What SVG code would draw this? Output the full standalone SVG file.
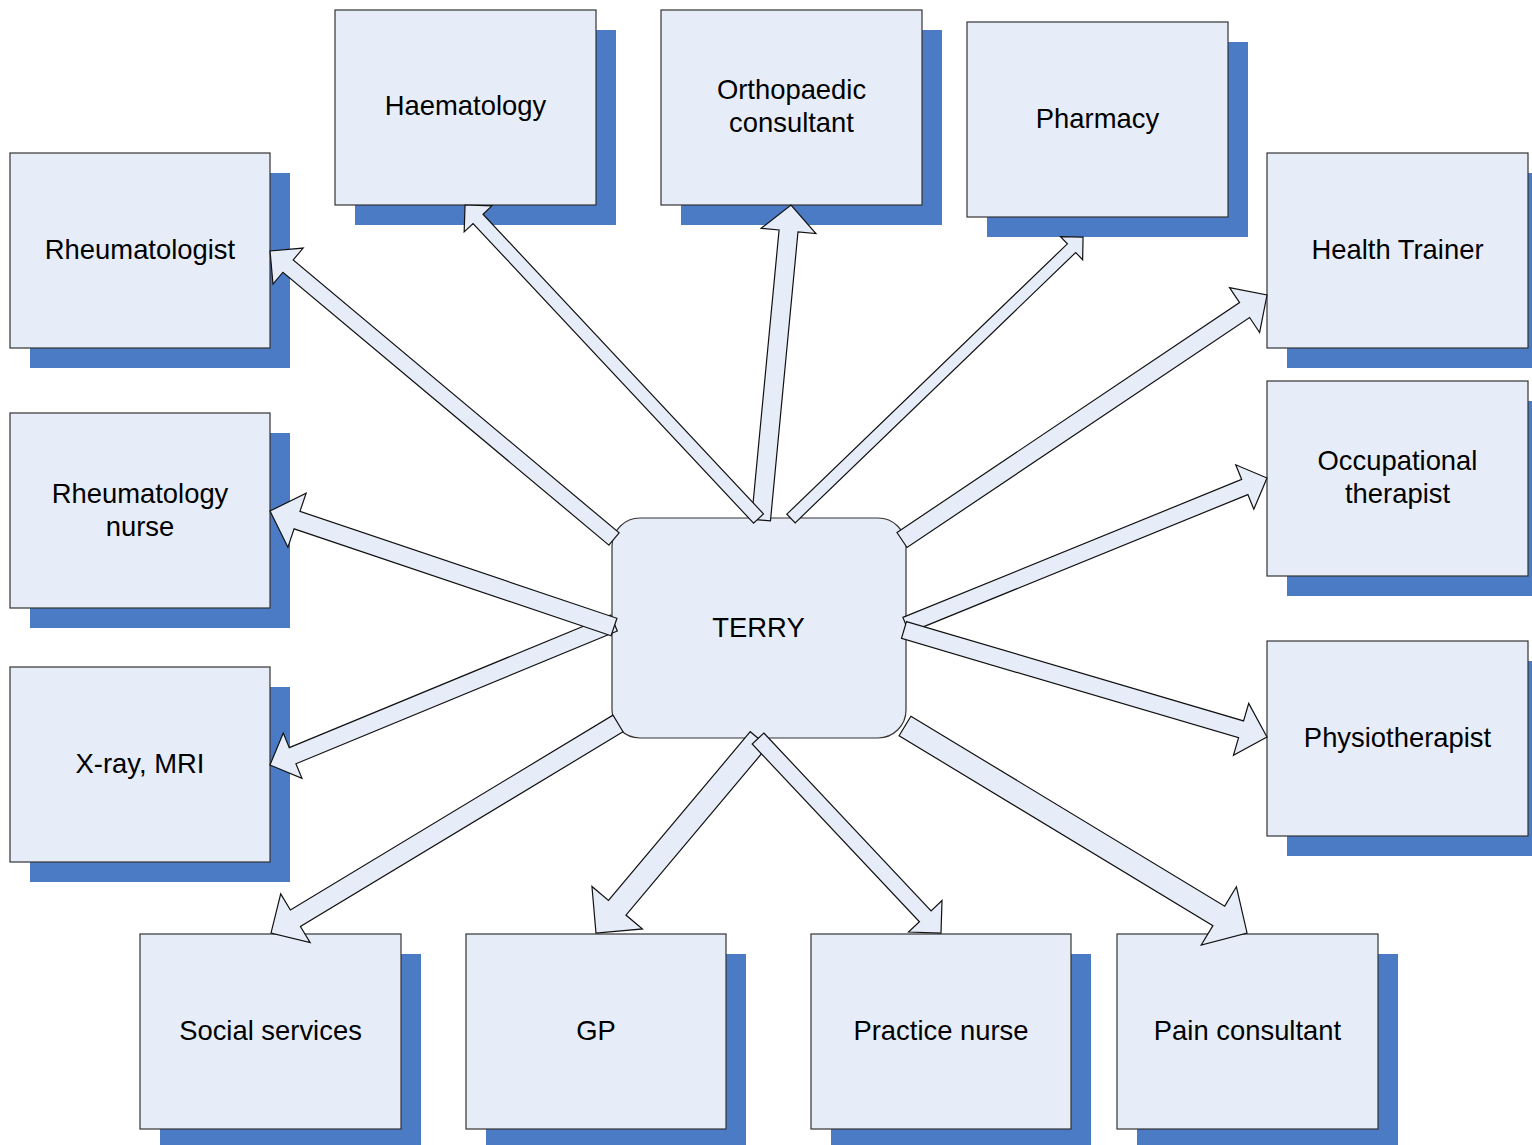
<svg xmlns="http://www.w3.org/2000/svg" width="1532" height="1145" viewBox="0 0 1532 1145">
<style>
.sh{fill:#4A7BC4}
.bx{fill:#E7EDF8;stroke:#333;stroke-width:1.2}
.t{font-family:"Liberation Sans",Arial,sans-serif;font-size:27.4px;fill:#000;text-anchor:middle}
.ar{fill:#E7EDF8;stroke:#111;stroke-width:1.2;stroke-linejoin:miter}
</style>
<rect width="1532" height="1145" fill="#fff"/>
<g id="haematology"><rect class="sh" x="355" y="30" width="261" height="195"/><rect class="bx" x="335" y="10" width="261" height="195"/><text class="t" x="465.5" y="115">Haematology</text></g>
<g id="orthopaedic"><rect class="sh" x="681" y="30" width="261" height="195"/><rect class="bx" x="661" y="10" width="261" height="195"/><text class="t" x="791.5" y="98.5">Orthopaedic</text><text class="t" x="791.5" y="131.5">consultant</text></g>
<g id="pharmacy"><rect class="sh" x="987" y="42" width="261" height="195"/><rect class="bx" x="967" y="22" width="261" height="195"/><text class="t" x="1097.5" y="128">Pharmacy</text></g>
<g id="rheumatologist"><rect class="sh" x="30" y="173" width="260" height="195"/><rect class="bx" x="10" y="153" width="260" height="195"/><text class="t" x="140" y="259">Rheumatologist</text></g>
<g id="health-trainer"><rect class="sh" x="1287" y="173" width="261" height="195"/><rect class="bx" x="1267" y="153" width="261" height="195"/><text class="t" x="1397.5" y="259">Health Trainer</text></g>
<g id="rheumatology-nurse"><rect class="sh" x="30" y="433" width="260" height="195"/><rect class="bx" x="10" y="413" width="260" height="195"/><text class="t" x="140" y="503">Rheumatology</text><text class="t" x="140" y="536">nurse</text></g>
<g id="occupational-therapist"><rect class="sh" x="1287" y="401" width="261" height="195"/><rect class="bx" x="1267" y="381" width="261" height="195"/><text class="t" x="1397.5" y="470">Occupational</text><text class="t" x="1397.5" y="503">therapist</text></g>
<g id="xray-mri"><rect class="sh" x="30" y="687" width="260" height="195"/><rect class="bx" x="10" y="667" width="260" height="195"/><text class="t" x="140" y="773">X-ray, MRI</text></g>
<g id="physiotherapist"><rect class="sh" x="1287" y="661" width="261" height="195"/><rect class="bx" x="1267" y="641" width="261" height="195"/><text class="t" x="1397.5" y="747">Physiotherapist</text></g>
<g id="social-services"><rect class="sh" x="160" y="954" width="261" height="195"/><rect class="bx" x="140" y="934" width="261" height="195"/><text class="t" x="270.5" y="1040">Social services</text></g>
<g id="gp"><rect class="sh" x="486" y="954" width="260" height="195"/><rect class="bx" x="466" y="934" width="260" height="195"/><text class="t" x="596" y="1040">GP</text></g>
<g id="practice-nurse"><rect class="sh" x="831" y="954" width="260" height="195"/><rect class="bx" x="811" y="934" width="260" height="195"/><text class="t" x="941" y="1040">Practice nurse</text></g>
<g id="pain-consultant"><rect class="sh" x="1137" y="954" width="261" height="195"/><rect class="bx" x="1117" y="934" width="261" height="195"/><text class="t" x="1247.5" y="1040">Pain consultant</text></g>
<g id="terry"><rect class="bx" x="612" y="518" width="294" height="220" rx="28" ry="28"/><text class="t" x="758.5" y="636.5">TERRY</text></g>
<g id="connectors">
<path class="ar" transform="translate(614,539) rotate(-140.06)" d="M0,-8 H425.1 V-23.5 L448.6,0 L425.1,23.5 V8 H0 Z"/>
<path class="ar" transform="translate(761,520) rotate(-84.56)" d="M0,-9.5 H290.4 V-27.5 L316.4,0 L290.4,27.5 V9.5 H0 Z"/>
<path class="ar" transform="translate(758.5,518.5) rotate(-133.11)" d="M0,-6.8 H410.4 V-19 L429.4,0 L410.4,19 V6.8 H0 Z"/>
<path class="ar" transform="translate(791,518.5) rotate(-43.94)" d="M0,-6 H389.6 V-16 L405.6,0 L389.6,16 V6 H0 Z"/>
<path class="ar" transform="translate(902,540) rotate(-33.87)" d="M0,-9 H412.6 V-27 L439.6,0 L412.6,27 V9 H0 Z"/>
<path class="ar" transform="translate(906,625) rotate(-22.16)" d="M0,-8.2 H365.8 V-24 L389.8,0 L365.8,24 V8.2 H0 Z"/>
<path class="ar" transform="translate(904,630) rotate(16.42)" d="M0,-8.8 H351.4 V-27 L378.4,0 L351.4,27 V8.8 H0 Z"/>
<path class="ar" transform="translate(905,726) rotate(31.18)" d="M0,-11.4 H366.8 V-34 L399.8,0 L366.8,34 V11.4 H0 Z"/>
<path class="ar" transform="translate(759,739) rotate(130.04)" d="M0,-11.4 H220.4 V-33 L253.4,0 L220.4,33 V11.4 H0 Z"/>
<path class="ar" transform="translate(758,738.5) rotate(46.75)" d="M0,-8 H244.1 V-23 L267.1,0 L244.1,23 V8 H0 Z"/>
<path class="ar" transform="translate(618,723.5) rotate(148.88)" d="M0,-9.7 H376.8 V-28.5 L405.3,0 L376.8,28.5 V9.7 H0 Z"/>
<path class="ar" transform="translate(614,623) rotate(157.57)" d="M0,-8.7 H347.7 V-24.5 L372.2,0 L347.7,24.5 V8.7 H0 Z"/>
<path class="ar" transform="translate(614,627) rotate(-161.37)" d="M0,-9.2 H334.5 V-28.5 L363,0 L334.5,28.5 V9.2 H0 Z"/>
</g>
</svg>
